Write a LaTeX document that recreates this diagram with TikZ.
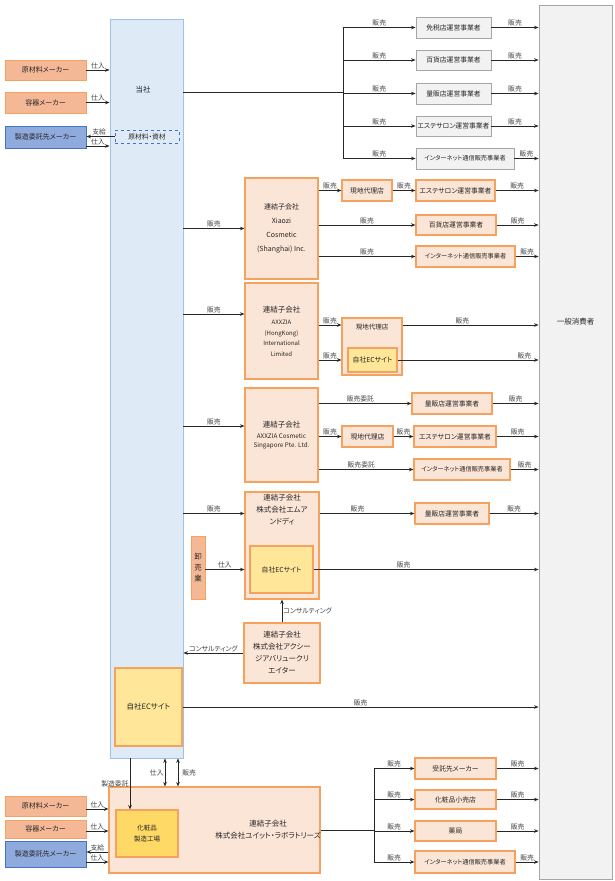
\documentclass[tikz,border=0pt]{standalone}
\usepackage{fontspec}
\setmainfont{Noto Sans CJK JP}[RawFeature=+palt]
\usetikzlibrary{calc,arrows.meta,positioning}
\definecolor{tblue}{HTML}{DEEBF7}
\definecolor{tblueline}{HTML}{9DC3E6}
\definecolor{cgrey}{HTML}{F2F2F2}
\definecolor{cgreyline}{HTML}{A6A6A6}
\definecolor{corange}{HTML}{FBE5D6}
\definecolor{corangeline}{HTML}{F4A25E}
\definecolor{csalmon}{HTML}{F4B896}
\definecolor{cblue}{HTML}{8FAADC}
\definecolor{cblueline}{HTML}{4472C4}
\definecolor{cyellow}{HTML}{FFE699}
\definecolor{cgold}{HTML}{FFD966}
\tikzset{
  box/.style={draw,line width=0.9pt,inner sep=1pt,align=center,font=\fontsize{6.8}{8}\selectfont,text=black!85},
  bluebox/.style={box,fill=tblue,draw=tblueline},
  greybox/.style={box,fill=cgrey,draw=cgreyline},
  subbox/.style={box,fill=corange,draw=corangeline,line width=1.1pt},
  makerbox/.style={box,fill=csalmon,draw=corangeline,font=\fontsize{7}{8}\selectfont},
  itakubox/.style={box,fill=cblue,draw=cblueline,font=\fontsize{7}{8}\selectfont},
  ecbox/.style={box,fill=cyellow,draw=corangeline,line width=1.1pt},
  dashbox/.style={box,dashed,draw=cblueline,line width=0.6pt,fill=tblue},
  netfont/.style={font=\fontsize{6.2}{8}\selectfont},
  arr/.style={-{Stealth[length=4.5pt,width=3.6pt]},line width=0.85pt,draw=black!85},
  darr/.style={{Stealth[length=4.5pt,width=3.6pt]}-{Stealth[length=4.5pt,width=3.6pt]},line width=0.85pt,draw=black!85},
  ln/.style={line width=0.85pt,draw=black!85},
  lbl/.style={font=\fontsize{6.8}{7}\selectfont,inner sep=1pt,text=black!75},
  txt/.style={align=center,inner sep=0pt,text=black!85,font=\fontsize{7.5}{12}\selectfont}
}
\begin{document}
\begin{tikzpicture}[x=1pt,y=-1pt]
\useasboundingbox (0,0) rectangle (614,881);
%一般消費者
\node[greybox,minimum width=73pt,minimum height=874pt] (cons) at (575.5,442) {};
\node[txt] (conslbl) at (575.5,322) {一般消費者};
%当社
\node[bluebox,minimum width=73pt,minimum height=739pt] (tosha) at (146.5,388.5) {};
\node[txt] (toshalbl) at (143,90) {当社};
\node[dashbox,minimum width=64pt,minimum height=13pt] (shizai) at (147,136.5) {原材料・資材};
\node[ecbox,minimum width=67pt,minimum height=78pt,font=\fontsize{7.5}{9}\selectfont] (ec1) at (148.5,707) {自社ECサイト};
%仕入先
\node[makerbox,minimum width=81pt,minimum height=20pt] (gen1) at (45.5,70) {原材料メーカー};
\node[makerbox,minimum width=81pt,minimum height=21pt] (yoki1) at (45.5,102.5) {容器メーカー};
\node[itakubox,minimum width=81pt,minimum height=22pt] (itaku1) at (45.5,137) {製造委託先メーカー};
\draw[arr] (gen1.east) -- (gen1.east -| tosha.west) node[lbl,midway,above]{仕入};
\draw[arr] (yoki1.east) -- (yoki1.east -| tosha.west) node[lbl,midway,above]{仕入};
\draw[arr] (shizai.west) -- (shizai.west -| itaku1.east) node[lbl,pos=0.55,above]{支給};
\draw[arr] ([yshift=-9pt]itaku1.east) -- ([yshift=-9pt]itaku1.east -| tosha.west) node[lbl,midway,above]{仕入};
%当社の販売先
\coordinate (tj) at (343,92);
\node[greybox,minimum width=75pt,minimum height=21pt] (menzei) at (453.5,27.5) {免税店運営事業者};
\node[greybox,minimum width=75pt,minimum height=20pt] (hyakka1) at (453.5,60) {百貨店運営事業者};
\node[greybox,minimum width=75pt,minimum height=21pt] (ryohan1) at (453.5,93.5) {量販店運営事業者};
\node[greybox,minimum width=75pt,minimum height=20pt] (esute1) at (453.5,126) {エステサロン運営事業者};
\node[greybox,netfont,minimum width=98pt,minimum height=21pt] (net1) at (465,158.5) {インターネット通信販売事業者};
\draw[ln] (tosha.east |- tj) -- (tj);
\draw[ln] (tj |- menzei.west) -- (tj |- net1.west);
\foreach \n in {menzei,hyakka1,ryohan1,esute1,net1}{
  \draw[arr] (tj |- \n.west) -- (\n.west) node[lbl,midway,above]{販売};
  \draw[arr] (\n.east) -- (\n.east -| cons.west) node[lbl,midway,above]{販売};
}
%Xiaozi
\node[subbox,minimum width=73pt,minimum height=101pt,font=\fontsize{7}{14}\selectfont] (xiaozi) at (281.5,228.5) {連結子会社\\Xiaozi\\Cosmetic\\(Shanghai) Inc.};
\node[subbox,minimum width=50pt,minimum height=21pt] (genchi1) at (367,190.5) {現地代理店};
\node[subbox,minimum width=79pt,minimum height=21pt] (esute2) at (455.5,190.5) {エステサロン運営事業者};
\node[subbox,minimum width=80pt,minimum height=20pt] (hyakka2) at (456,225) {百貨店運営事業者};
\node[subbox,netfont,minimum width=99pt,minimum height=21pt] (net2) at (465.5,256.5) {インターネット通信販売事業者};
\draw[arr] (xiaozi.west -| tosha.east) -- (xiaozi.west) node[lbl,midway,above]{販売};
\draw[arr] (genchi1.west -| xiaozi.east) -- (genchi1.west) node[lbl,midway,above]{販売};
\draw[arr] (genchi1.east) -- (esute2.west) node[lbl,midway,above]{販売};
\draw[arr] (hyakka2.west -| xiaozi.east) -- (hyakka2.west) node[lbl,midway,above]{販売};
\draw[arr] (net2.west -| xiaozi.east) -- (net2.west) node[lbl,midway,above]{販売};
\foreach \n in {esute2,hyakka2,net2}
  \draw[arr] (\n.east) -- (\n.east -| cons.west) node[lbl,midway,above]{販売};
%HongKong
\node[subbox,minimum width=73pt,minimum height=96pt,font=\fontsize{6}{10.5}\selectfont] (hk) at (281.5,331) {{\fontsize{7.5}{9}\selectfont 連結子会社}\\[2pt]AXXZIA\\(HongKong)\\International\\Limited};
\node[subbox,minimum width=60pt,minimum height=57pt] (genchi2) at (372,346.5) {};
\node[txt,font=\fontsize{6.5}{8}\selectfont] (genchi2lbl) at (372,327) {現地代理店};
\node[ecbox,minimum width=49pt,minimum height=24pt] (ec2) at (372.5,360) {自社ECサイト};
\coordinate (hkin) at ([yshift=17pt]hk.west);
\coordinate (hkg) at ([yshift=21.5pt]genchi2.west);
\draw[arr] (hkin -| tosha.east) -- (hkin) node[lbl,midway,above]{販売};
\draw[arr] (hkg -| hk.east) -- (hkg) node[lbl,midway,above]{販売};
\draw[arr] (ec2.west -| hk.east) -- (ec2.west -| genchi2.west) node[lbl,midway,above]{販売};
\draw[arr] (hkg -| genchi2.east) -- (hkg -| cons.west) node[lbl,pos=0.44,above]{販売};
\draw[arr] (ec2.east) -- (ec2.east -| cons.west) node[lbl,pos=0.9,above]{販売};
%Singapore
\node[subbox,minimum width=73pt,minimum height=94pt,font=\fontsize{6.3}{9}\selectfont] (sg) at (281.5,435) {{\fontsize{7.5}{9}\selectfont 連結子会社}\\[2pt]AXXZIA Cosmetic\\Singapore Pte. Ltd.};
\node[subbox,minimum width=80pt,minimum height=21pt] (ryohan2) at (452,403.5) {量販店運営事業者};
\node[subbox,minimum width=51pt,minimum height=21pt] (genchi3) at (367.5,436.5) {現地代理店};
\node[subbox,minimum width=82pt,minimum height=21pt] (esute3) at (455,436.5) {エステサロン運営事業者};
\node[subbox,netfont,minimum width=96pt,minimum height=21pt] (net3) at (462,469.5) {インターネット通信販売事業者};
\coordinate (sgin) at ([yshift=9pt]sg.west);
\draw[arr] (sgin -| tosha.east) -- (sgin) node[lbl,midway,above]{販売};
\draw[arr] (ryohan2.west -| sg.east) -- (ryohan2.west) node[lbl,pos=0.45,above]{販売委託};
\draw[arr] (genchi3.west -| sg.east) -- (genchi3.west) node[lbl,midway,above]{販売};
\draw[arr] (genchi3.east) -- (esute3.west) node[lbl,midway,above]{販売};
\draw[arr] (net3.west -| sg.east) -- (net3.west) node[lbl,pos=0.45,above]{販売委託};
\foreach \n in {ryohan2,esute3,net3}
  \draw[arr] (\n.east) -- (\n.east -| cons.west) node[lbl,midway,above]{販売};
%エムアンドディ
\node[subbox,minimum width=74pt,minimum height=107pt] (md) at (282,545.5) {};
\node[txt,anchor=north] (mdlbl) at (282,494) {連結子会社\\株式会社エムア\\ンドディ};
\node[ecbox,minimum width=63pt,minimum height=47pt] (ec3) at (281.5,569.5) {自社ECサイト};
\node[makerbox,minimum width=14pt,minimum height=63pt,inner sep=0pt,font=\fontsize{7.5}{11}\selectfont] (oroshi) at (198,567.5) {卸\\売\\業};
\node[subbox,minimum width=74pt,minimum height=21pt] (ryohan3) at (452,513.5) {量販店運営事業者};
\coordinate (mdin) at (md.west |- ryohan3.west);
\draw[arr] (mdin -| tosha.east) -- (mdin) node[lbl,midway,above]{販売};
\draw[arr] (ryohan3.west -| md.east) -- (ryohan3.west) node[lbl,pos=0.4,above]{販売};
\draw[arr] (ryohan3.east) -- (ryohan3.east -| cons.west) node[lbl,midway,above]{販売};
\draw[arr] (ec3.east) -- (ec3.east -| cons.west) node[lbl,pos=0.4,above]{販売};
\draw[arr] (oroshi.east |- ec3.west) -- (md.west |- ec3.west) node[lbl,midway,above]{仕入};
%アクシージアバリュークリエイター
\node[subbox,minimum width=76pt,minimum height=60pt,font=\fontsize{7.5}{12}\selectfont] (axc) at (282,653) {連結子会社\\株式会社アクシー\\ジアバリュークリ\\エイター};
\draw[arr] (axc.north) -- (md.south) node[lbl,midway,right]{コンサルティング};
\draw[arr] (axc.west) -- (axc.west -| tosha.east) node[lbl,midway,above]{コンサルティング};
\draw[arr] (ec1.east) -- (ec1.east -| cons.west) node[lbl,midway,above]{販売};
%ユイット・ラボラトリーズ
\node[subbox,minimum width=211pt,minimum height=86pt] (yuito) at (214.5,830) {};
\node[txt] (yuitolbl) at (268,830) {連結子会社\\株式会社ユイット・ラボラトリーズ};
\node[box,fill=cgold,draw=corangeline,line width=1.1pt,minimum width=62pt,minimum height=47pt,font=\fontsize{6.5}{11}\selectfont] (koujou) at (147,833.5) {化粧品\\製造工場};
\coordinate (itakux) at (130,0);
\coordinate (shirex) at (165,0);
\coordinate (hanbx) at (178,0);
\draw[arr] (tosha.south -| itakux) -- (koujou.north -| itakux) node[lbl,midway,left]{製造委託};
\draw[darr] (tosha.south -| shirex) -- (yuito.north -| shirex) node[lbl,midway,left]{仕入};
\draw[darr] (tosha.south -| hanbx) -- (yuito.north -| hanbx) node[lbl,midway,right,xshift=3pt]{販売};
\node[makerbox,minimum width=81pt,minimum height=20pt] (gen2) at (45.5,806) {原材料メーカー};
\node[makerbox,minimum width=81pt,minimum height=18pt] (yoki2) at (45.5,829) {容器メーカー};
\node[itakubox,minimum width=81pt,minimum height=26pt] (itaku2) at (45.5,854) {製造委託先メーカー};
\draw[arr] ([yshift=-3pt]gen2.east) -- ([yshift=-3pt]gen2.east -| yuito.west) node[lbl,midway,above]{仕入};
\draw[arr] ([yshift=-2pt]yoki2.east) -- ([yshift=-2pt]yoki2.east -| yuito.west) node[lbl,midway,above]{仕入};
\draw[arr] ([yshift=2pt]itaku2.east -| yuito.west) -- ([yshift=2pt]itaku2.east) node[lbl,midway,above]{支給};
\draw[arr] ([yshift=-8pt]itaku2.east) -- ([yshift=-8pt]itaku2.east -| yuito.west) node[lbl,midway,above]{仕入};
\coordinate (bj) at (374,830);
\node[subbox,minimum width=81pt,minimum height=21pt] (juta) at (455.5,768.5) {受託先メーカー};
\node[subbox,minimum width=81pt,minimum height=19pt] (kouri) at (455.5,799.5) {化粧品小売店};
\node[subbox,minimum width=81pt,minimum height=20pt] (yakkyoku) at (455.5,831) {薬局};
\node[subbox,netfont,minimum width=100pt,minimum height=22pt] (net4) at (465,862) {インターネット通信販売事業者};
\draw[ln] (yuito.east |- bj) -- (bj);
\draw[ln] (bj |- juta.west) -- (bj |- net4.west);
\foreach \n in {juta,kouri,yakkyoku,net4}{
  \draw[arr] (bj |- \n.west) -- (\n.west) node[lbl,midway,above]{販売};
  \draw[arr] (\n.east) -- (\n.east -| cons.west) node[lbl,midway,above]{販売};
}
\end{tikzpicture}
\end{document}
